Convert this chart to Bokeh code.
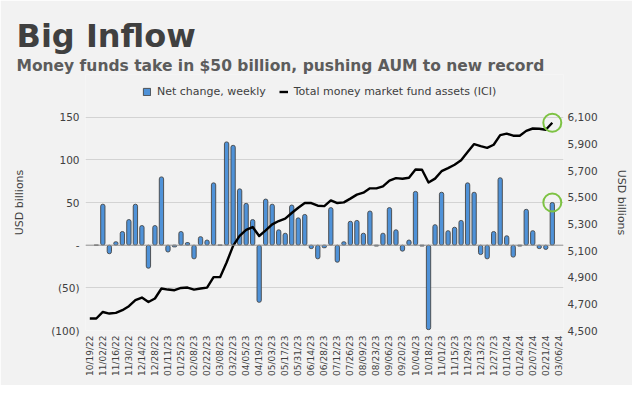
import math
from bokeh.plotting import figure
from bokeh.models import (Range1d, LinearAxis, FixedTicker, NumeralTickFormatter, Title,
                          Legend, LegendItem, Span, ColumnDataSource)
from bokeh.embed import file_html
from bokeh.resources import INLINE

title_text = "Big Inflow"
subtitle_text = "Money funds take in $50 billion, pushing AUM to new record"
bar_name = "Net change, weekly"
line_name = "Total money market fund assets (ICI)"
axis_name = "USD billions"

tick_labels = ["10/19/22", "11/02/22", "11/16/22", "11/30/22", "12/14/22", "12/28/22",
               "01/11/23", "01/25/23", "02/08/23", "02/22/23", "03/08/23", "03/22/23",
               "04/05/23", "04/19/23", "05/03/23", "05/17/23", "05/31/23", "06/14/23",
               "06/28/23", "07/12/23", "07/26/23", "08/09/23", "08/23/23", "09/06/23",
               "09/20/23", "10/04/23", "10/18/23", "11/01/23", "11/15/23", "11/29/23",
               "12/13/23", "12/27/23", "01/10/24", "01/24/24", "02/07/24", "02/21/24",
               "03/06/24"]

# weekly net change, USD billions (first week has no change)
net_change = [None, 0, 48, -10, 4, 16, 30, 48, 23, -27, 23, 80, -8, -2, 16, 3, -16, 10, 6, 73,
              0, 121, 117, 66, 49, 30, -67, 54, 48, 18, 14, 47, 32, 36, -4, -16, -3, 44, -20,
              4, 28, 29, 14, 40, -1, 14, 44, 18, -7, 6, 63, -1, -99, 24, 62, 17, 21, 29, 73,
              62, -11, -16, 16, 79, 11, -14, -1, 42, 17, -4, -5, 50]

# total money market fund assets, USD billions
total_assets = [4590, 4590, 4639, 4627, 4632, 4652, 4682, 4727, 4747, 4714, 4740, 4815, 4807,
                4802, 4819, 4822, 4807, 4815, 4822, 4900, 4900, 5010, 5135, 5210, 5255, 5276,
                5209, 5251, 5296, 5321, 5339, 5381, 5421, 5456, 5456, 5436, 5433, 5476, 5456,
                5461, 5489, 5519, 5534, 5566, 5566, 5581, 5624, 5643, 5638, 5646, 5708, 5706,
                5610, 5639, 5695, 5718, 5743, 5776, 5838, 5898, 5883, 5870, 5893, 5965, 5976,
                5961, 5961, 5997, 6015, 6013, 6006, 6058]

left_ticks = [-100, -50, 0, 50, 100, 150]
left_tick_text = ["(100)", "(50)", "-", "50", "100", "150"]
right_ticks = [4500, 4700, 4900, 5100, 5300, 5500, 5700, 5900, 6100]

weeks = list(range(len(total_assets)))
nan = float("nan")
bar_src = ColumnDataSource(dict(x=weeks, top=[nan if v is None else v for v in net_change]))
line_src = ColumnDataSource(dict(x=weeks, y=total_assets))

FONT = "DejaVu Sans"
TXT = "#404040"
BG = "#f2f2f2"

# the frame reaches up to the legend row; the axes' ticks stop at 150 / 6,100
p = figure(width=632, height=385, output_backend="svg", toolbar_location=None, title=None,
           x_range=Range1d(-0.66, 72.72), y_range=Range1d(-100, 200),
           min_border_left=85, min_border_right=69, min_border_top=74, min_border_bottom=55,
           background_fill_color=BG, border_fill_color=BG, outline_line_color=None)
p.extra_y_ranges = {"aum": Range1d(4500, 6420)}

# grid
p.xgrid.grid_line_color = None
p.ygrid.grid_line_color = "#d3d3d3"
p.ygrid.grid_line_width = 1

# x axis
xa = p.xaxis[0]
xa.ticker = FixedTicker(ticks=list(range(0, 2 * len(tick_labels), 2)))
xa.major_label_overrides = {i * 2: t for i, t in enumerate(tick_labels)}
xa.major_label_orientation = math.pi / 2
xa.axis_line_color = None
xa.major_tick_line_color = None
xa.minor_tick_line_color = None
xa.major_tick_out = 0
xa.major_tick_in = 0
xa.major_label_standoff = 5
xa.major_label_text_font = FONT
xa.major_label_text_font_size = "9px"
xa.major_label_text_color = TXT

# left axis
ya = p.yaxis[0]
ya.ticker = FixedTicker(ticks=left_ticks)
p.ygrid.ticker = FixedTicker(ticks=left_ticks)
ya.major_label_overrides = dict(zip(left_ticks, left_tick_text))
ya.axis_line_color = None
ya.major_tick_line_color = None
ya.minor_tick_line_color = None
ya.major_tick_out = 0
ya.major_tick_in = 0
ya.major_label_standoff = 6
ya.major_label_text_font = FONT
ya.major_label_text_font_size = "10.5px"
ya.major_label_text_color = TXT
ya.axis_label = axis_name
ya.axis_label_text_font = FONT
ya.axis_label_text_font_size = "11px"
ya.axis_label_text_font_style = "normal"
ya.axis_label_text_color = TXT
ya.axis_label_standoff = 22

# right axis
ra = LinearAxis(y_range_name="aum", ticker=FixedTicker(ticks=right_ticks),
                formatter=NumeralTickFormatter(format="0,0"))
ra.axis_line_color = None
ra.major_tick_line_color = None
ra.minor_tick_line_color = None
ra.major_tick_out = 0
ra.major_tick_in = 0
ra.major_label_standoff = 4
ra.major_label_text_font = FONT
ra.major_label_text_font_size = "10.5px"
ra.major_label_text_color = TXT
ra.axis_label = axis_name
ra.axis_label_text_font = FONT
ra.axis_label_text_font_size = "11px"
ra.axis_label_text_font_style = "normal"
ra.axis_label_text_color = TXT
ra.axis_label_standoff = 14
p.add_layout(ra, "right")

# zero line
p.add_layout(Span(location=0, dimension="width", line_color="#9a9a9a", line_width=1))

bars = p.vbar(x="x", top="top", bottom=0, width=0.66, source=bar_src,
              fill_color="#4f92d8", line_color="#454545", line_width=0.9, border_radius=2)
line = p.line(x="x", y="y", source=line_src, y_range_name="aum",
              line_color="black", line_width=2.4, line_join="round")

# highlight circles on the latest week
p.scatter(x=[weeks[-1]], y=[net_change[-1]], size=18, marker="circle",
          fill_color=None, line_color="#7dc243", line_width=2)
p.scatter(x=[weeks[-1]], y=[total_assets[-1]], size=18, marker="circle",
          fill_color=None, line_color="#7dc243", line_width=2, y_range_name="aum")

legend = Legend(items=[LegendItem(label=bar_name, renderers=[bars]),
                       LegendItem(label=line_name, renderers=[line])],
                location=(57, 232), orientation="horizontal",
                glyph_width=9, glyph_height=9, label_standoff=6, spacing=13,
                padding=0, margin=0, label_height=11,
                label_text_font=FONT, label_text_font_size="11px", label_text_color=TXT,
                background_fill_alpha=0, border_line_color=None)
p.add_layout(legend, "center")

p.add_layout(Title(text=subtitle_text, align="left", offset=-69, standoff=0,
                   text_font=FONT, text_font_size="15.5px", text_font_style="bold",
                   text_color="#5c5c5c"), "above")
p.add_layout(Title(text=title_text, align="left", offset=-69, standoff=0,
                   text_font=FONT, text_font_size="32px", text_font_style="bold",
                   text_color=TXT), "above")

open("out.html", "w").write(file_html(p, INLINE))
